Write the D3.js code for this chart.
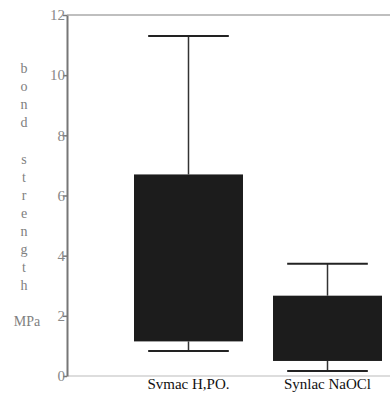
<!DOCTYPE html>
<html><head><meta charset="utf-8">
<script src="https://cdn.jsdelivr.net/npm/d3@7"></script>
<style>body{margin:0;background:#fff}svg{display:block}svg text{font-family:'Liberation Serif','Times New Roman',serif !important}</style>
</head><body>
<svg id="c" width="390" height="394"></svg>
<script>
const categories = ["Svmac H,PO.", "Synlac NaOCl"];
const whiskerLow = [0.83, 0.17];
const boxLow = [1.15, 0.5];
const boxHigh = [6.7, 2.67];
const whiskerHigh = [11.3, 3.73];
const yTicks = [0, 2, 4, 6, 8, 10, 12];
const yLetters = ["b","o","n","d","","s","t","r","e","n","g","t","h"];

const svg = d3.select("#c");
const y = d3.scaleLinear().domain([0, 12]).range([376, 15]);
const x = d3.scaleBand().domain(categories).range([134, 382]).paddingInner(0.216).paddingOuter(0);

// frame lines
svg.append("line").attr("x1", 67).attr("x2", 390).attr("y1", y(12)).attr("y2", y(12))
  .attr("stroke", "#aaa").attr("stroke-width", 1.5);
svg.append("line").attr("x1", 67).attr("x2", 390).attr("y1", y(0)).attr("y2", y(0))
  .attr("stroke", "#bbb").attr("stroke-width", 1.2);

const ax = svg.append("g").attr("transform", "translate(67,0)")
  .call(d3.axisLeft(y).tickValues(yTicks).tickSize(4).tickSizeOuter(0));
ax.attr("font-family", null);
ax.select(".domain").attr("stroke", "#777").attr("stroke-width", 2);
ax.selectAll(".tick line").attr("stroke", "#777").attr("stroke-width", 1.5);
ax.selectAll(".tick text").attr("fill", "#888").attr("font-size", 15).attr("x", -2);

// y label
svg.append("g").selectAll("text").data(yLetters).join("text")
  .attr("x", 24).attr("y", (d, i) => 73 + i * 18.1)
  .attr("text-anchor", "middle").attr("fill", "#808080")
  .attr("font-size", 14).text(d => d);
svg.append("text").attr("x", 27).attr("y", 326).attr("text-anchor", "middle")
  .attr("fill", "#808080").attr("font-size", 14).text("MPa");

const g = svg.append("g").selectAll("g").data(categories).join("g");
g.each(function(c, i) {
  const s = d3.select(this);
  const bx = x(c), bw = x.bandwidth(), cx = bx + bw / 2, cap = bw * 0.37;
  s.append("line").attr("x1", cx).attr("x2", cx).attr("y1", y(whiskerHigh[i])).attr("y2", y(boxHigh[i]))
    .attr("stroke", "#333").attr("stroke-width", 1.5);
  s.append("line").attr("x1", cx).attr("x2", cx).attr("y1", y(boxLow[i])).attr("y2", y(whiskerLow[i]))
    .attr("stroke", "#333").attr("stroke-width", 1.5);
  s.append("line").attr("x1", cx - cap).attr("x2", cx + cap).attr("y1", y(whiskerHigh[i])).attr("y2", y(whiskerHigh[i]))
    .attr("stroke", "#222").attr("stroke-width", 2);
  s.append("line").attr("x1", cx - cap).attr("x2", cx + cap).attr("y1", y(whiskerLow[i])).attr("y2", y(whiskerLow[i]))
    .attr("stroke", "#222").attr("stroke-width", 2);
  s.append("rect").attr("x", bx).attr("width", bw).attr("y", y(boxHigh[i]))
    .attr("height", y(boxLow[i]) - y(boxHigh[i])).attr("fill", "#1c1c1c");
});

svg.append("g").selectAll("text").data(categories).join("text")
  .attr("x", d => x(d) + x.bandwidth() / 2).attr("y", 389).attr("text-anchor", "middle")
  .attr("fill", "#111").attr("font-size", 15).text(d => d);
</script>
</body></html>
